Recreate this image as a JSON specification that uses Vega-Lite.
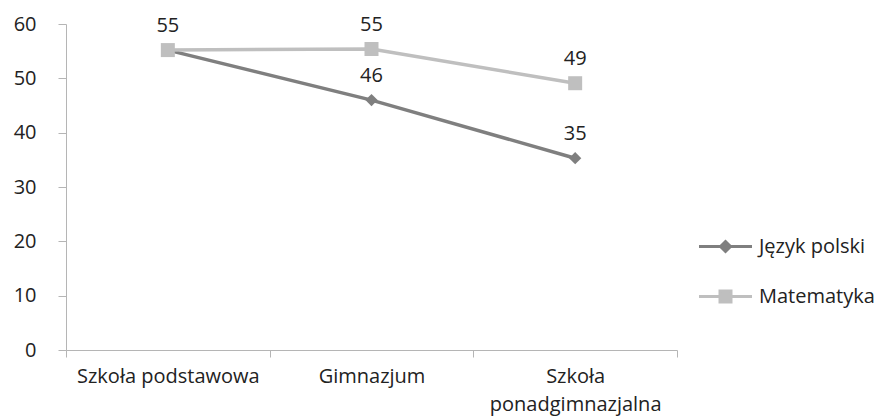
{
  "$schema": "https://vega.github.io/schema/vega-lite/v6.json",
  "width": 611,
  "height": 326,
  "autosize": "none",
  "padding": {"left": 66, "top": 24, "right": 206, "bottom": 66},
  "background": "white",
  "config": {
    "view": {"stroke": null},
    "font": "Open Sans",
    "axis": {"labelFont": "Open Sans", "labelColor": "#222222", "labelFontSize": 20, "labelLimit": 0, "domainColor": "#b5b5b5", "tickColor": "#b5b5b5", "domainWidth": 1, "tickWidth": 1, "grid": false, "title": null}
  },
  "data": {
    "values": [
      {"stage": "Szkoła podstawowa", "series": "Język polski", "value": 55.2},
      {"stage": "Gimnazjum", "series": "Język polski", "value": 46.0},
      {"stage": "Szkoła ponadgimnazjalna", "series": "Język polski", "value": 35.3},
      {"stage": "Szkoła podstawowa", "series": "Matematyka", "value": 55.2},
      {"stage": "Gimnazjum", "series": "Matematyka", "value": 55.4},
      {"stage": "Szkoła ponadgimnazjalna", "series": "Matematyka", "value": 49.1}
    ]
  },
  "encoding": {
    "x": {
      "field": "stage", "type": "nominal", "sort": null,
      "scale": {"paddingInner": 0, "paddingOuter": 0},
      "axis": {"labelAngle": 0, "tickBand": "extent", "tickSize": 7, "labelPadding": 9, "labelLineHeight": 28, "labelLimit": 0,
        "labelExpr": "datum.label == 'Szkoła ponadgimnazjalna' ? ['Szkoła', 'ponadgimnazjalna'] : datum.label"}
    },
    "y": {
      "field": "value", "type": "quantitative",
      "scale": {"domain": [0, 60], "nice": false},
      "axis": {"values": [0, 10, 20, 30, 40, 50, 60], "tickSize": 8, "labelPadding": 22}
    }
  },
  "layer": [
    {
      "mark": {"type": "line", "strokeWidth": 3.5},
      "encoding": {
        "color": {
          "field": "series", "type": "nominal",
          "scale": {"domain": ["Język polski", "Matematyka"], "range": ["#7f7f7f", "#bfbfbf"]},
          "legend": {
            "title": null, "orient": "none", "legendX": 648, "legendY": 211,
            "padding": 0, "symbolSize": 400, "rowPadding": 27, "labelOffset": 22,
            "labelFont": "Open Sans", "labelFontSize": 20, "labelColor": "#222222", "labelLimit": 0,
            "symbolStrokeWidth": 3,
            "encode": {
              "symbols": {
                "update": {
                  "shape": {"signal": "datum.value === 'Język polski' ? 'M-2.65,0H2.65M-0.5,0L0,-0.5L0.5,0L0,0.5Z' : 'M-2.65,0H2.65M-0.55,-0.55H0.55V0.55H-0.55Z'"},
                  "fill": {"signal": "datum.value === 'Język polski' ? '#7f7f7f' : '#bfbfbf'"},
                  "stroke": {"signal": "datum.value === 'Język polski' ? '#7f7f7f' : '#bfbfbf'"},
                  "fillOpacity": {"value": 1},
                  "strokeWidth": {"value": 3}
                }
              }
            }
          }
        }
      }
    },
    {
      "transform": [{"filter": "datum.series === 'Język polski'"}],
      "mark": {"type": "point", "filled": true, "opacity": 1, "shape": "diamond", "size": 150, "color": "#7f7f7f"}
    },
    {
      "transform": [{"filter": "datum.series === 'Matematyka'"}],
      "mark": {"type": "point", "filled": true, "opacity": 1, "shape": "square", "size": 196, "color": "#bfbfbf"}
    },
    {
      "transform": [{"filter": "!(datum.series === 'Język polski' && datum.stage === 'Szkoła podstawowa')"}],
      "mark": {"type": "text", "dy": -24, "fontSize": 20, "font": "Open Sans", "color": "#222222", "baseline": "middle"},
      "encoding": {
        "text": {"field": "value", "type": "quantitative", "format": ".0f"}
      }
    }
  ]
}
